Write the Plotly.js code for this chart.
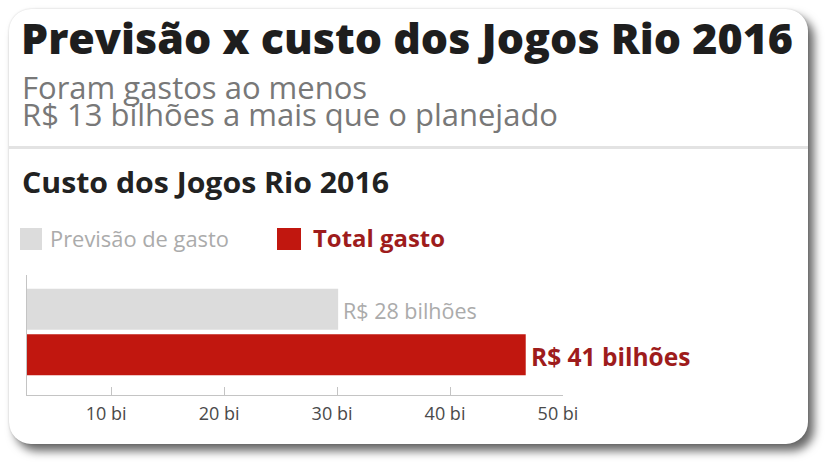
<!DOCTYPE html>
<html>
<head>
<meta charset="utf-8">
<script src="https://cdn.plot.ly/plotly-3.0.1.min.js"></script>
<style>
  html, body { margin: 0; padding: 0; background: #ffffff; }
  body { width: 831px; height: 467px; position: relative; overflow: hidden; }
  #card { position: absolute; left: 9px; top: 9px; width: 799px; height: 435px;
          border-radius: 22px; background: #ffffff;
          box-shadow: 6px 7px 10px rgba(0,0,0,0.6), 0 0 2px rgba(0,0,0,0.18); }
  #chart { position: absolute; left: 0; top: 0; width: 831px; height: 467px; }
</style>
</head>
<body>
<div id="card"></div>
<div id="chart"></div>
<script>
// ---- data ----
const categorias = ['Previsão de gasto', 'Total gasto'];
const comprimentos = [30.1, 46.7];           // bar ends read against the x axis
const rotulos = ['R$ 28 bilhões', 'R$ 41 bilhões'];
const tickValores = [10, 20, 30, 40, 50];
const tickTextos = ['10 bi', '20 bi', '30 bi', '40 bi', '50 bi'];
const titulo = 'Previsão x custo dos Jogos Rio 2016';
const subtitulo1 = 'Foram gastos ao menos';
const subtitulo2 = 'R$ 13 bilhões a mais que o planejado';
const tituloGrafico = 'Custo dos Jogos Rio 2016';

// ---- styling ----
const cores = ['#dcdcdc', '#c1170f'];
const coresRotulo = ['#ababab', '#9e1c1c'];
const FONT = 'Open Sans, Noto Sans, sans-serif';

const W = 831, H = 467;
const PL = 27, PR = 563, PT = 275, PB = 395;
const px = x => (x - PL) / (PR - PL);
const py = y => (PB - y) / (PB - PT);

const traces = categorias.map((c, i) => ({
  type: 'bar', orientation: 'h',
  y: [c], x: [comprimentos[i]],
  width: 0.9,
  marker: { color: cores[i], line: { width: 0 } },
  hoverinfo: 'skip', showlegend: false
}));

function ann(text, x, yCenter, size, color, weight) {
  return { text: text, xref: 'paper', yref: 'paper', x: px(x - 2), y: py(yCenter),
    xanchor: 'left', yanchor: 'middle', align: 'left', showarrow: false,
    font: { family: FONT, size: size, color: color, weight: weight || 400 } };
}

const SUB = 31;
const annotations = [
  { text: subtitulo1 + '<br>' + subtitulo2, xref: 'paper', yref: 'paper',
    x: px(21.5 - 2), y: py(99 - 2 - 1.069 * SUB), xanchor: 'left', yanchor: 'top',
    align: 'left', showarrow: false,
    font: { family: FONT, size: SUB, color: '#787878' } },
  ann(tituloGrafico, 22, 192.5 - 0.388 * 28, 28, '#222222', 700),
  ann(categorias[0], 50, 246.7 - 0.388 * 22, 22, '#ababab'),
  ann(categorias[1], 313, 247 - 0.388 * 24, 24, '#9e1c1c', 700)
];
const lens = [0, 367, 179, 132];

categorias.forEach((c, i) => {
  annotations.push({ text: rotulos[i], xref: 'x', yref: 'y', x: comprimentos[i], y: c,
    xanchor: 'left', yanchor: 'middle', xshift: 3, yshift: i === 0 ? -1 : -2,
    showarrow: false,
    font: { family: FONT, size: i === 0 ? 21.5 : 24.5, color: coresRotulo[i], weight: i === 0 ? 400 : 700 } });
});

const shapes = [
  { type: 'line', xref: 'paper', yref: 'paper', x0: px(9), x1: px(808), y0: py(147.5), y1: py(147.5),
    line: { color: '#e3e3e3', width: 3 } },
  { type: 'rect', xref: 'paper', yref: 'paper', x0: px(20), x1: px(42), y0: py(250), y1: py(228),
    fillcolor: cores[0], line: { width: 0 } },
  { type: 'rect', xref: 'paper', yref: 'paper', x0: px(277), x1: px(301), y0: py(250), y1: py(228),
    fillcolor: cores[1], line: { width: 0 } }
];

const layout = {
  width: W, height: H,
  margin: { l: PL, r: W - PR, t: PT, b: H - PB, pad: 0 },
  paper_bgcolor: 'rgba(0,0,0,0)', plot_bgcolor: 'rgba(0,0,0,0)',
  barmode: 'overlay',
  title: { text: titulo, xref: 'container', yref: 'container', x: 21 / W, xanchor: 'left',
    y: 1 - (53.5 - 0.35 * 43) / H, yanchor: 'middle',
    font: { family: FONT, size: 43, color: '#1e1e1e', weight: 800 } },
  xaxis: { range: [2.56, 50], tickvals: tickValores, ticktext: tickTextos,
    ticks: 'inside', ticklen: 8, tickwidth: 1, tickcolor: '#c4c4c4',
    ticklabelshift: -5, ticklabelstandoff: 2,
    showline: true, linecolor: '#c4c4c4', linewidth: 1, showgrid: false, zeroline: false,
    tickfont: { family: FONT, size: 18, color: '#4a4a4a' }, fixedrange: true },
  yaxis: { type: 'category', categoryorder: 'array', categoryarray: [categorias[1], categorias[0]],
    range: [-0.884, 1.754], showticklabels: false, ticks: '', showline: true,
    linecolor: '#c4c4c4', linewidth: 1, showgrid: false, zeroline: false, fixedrange: true },
  annotations: annotations,
  shapes: shapes,
  showlegend: false
};

const gd = document.getElementById('chart');
Plotly.newPlot(gd, traces, layout, { displayModeBar: false, staticPlot: true }).then(() => {
  const t = gd.querySelector('.gtitle');
  if (t) { t.setAttribute('textLength', 772); t.setAttribute('lengthAdjust', 'spacingAndGlyphs'); }
  const anns = gd.querySelectorAll('.annotation-text');
  lens.forEach((L, i) => {
    if (anns[i] && L) { anns[i].setAttribute('textLength', L); anns[i].setAttribute('lengthAdjust', 'spacingAndGlyphs'); }
  });
  // tighter line spacing for the two-line subtitle, as in the reference
  if (anns[0]) {
    const lines = anns[0].querySelectorAll('tspan.line');
    if (lines.length > 1) lines[1].setAttribute('dy', '27');
  }
});
</script>
</body>
</html>
